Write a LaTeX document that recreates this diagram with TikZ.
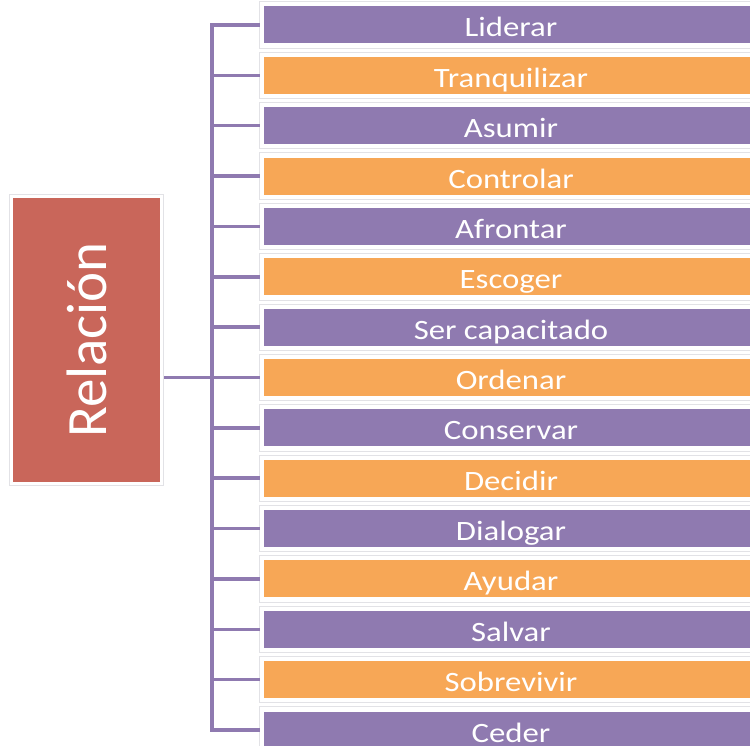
\documentclass[tikz,border=0pt]{standalone}
\usepackage{fontspec}
\setmainfont{Carlito}
\newfontfamily\etiqfont[FakeStretch=1.17]{Carlito}
\usetikzlibrary{calc,positioning}
\definecolor{lila}{RGB}{143,122,176}
\definecolor{naranja}{RGB}{247,167,86}
\definecolor{rojo}{RGB}{201,102,90}
\definecolor{marco}{RGB}{226,226,230}
\tikzset{
     verb box/.style = {minimum width=494pt, minimum height=37pt, inner sep=0pt,
                        text height=24pt, text depth=0pt, text=white,
                        font=\etiqfont\fontsize{28}{30}\selectfont},
     lila box/.style = {verb box, fill=lila},
     naranja box/.style = {verb box, fill=naranja},
     rel box/.style = {fill=rojo, text=white, minimum width=147pt, minimum height=284pt,
                       inner sep=0pt, font=\fontsize{57}{57}\selectfont},
     branch/.style = {lila, line width=3.5pt},
     marco line/.style = {marco, line width=0.9pt},
    }

\begin{document}
\begin{tikzpicture}[x=1pt,y=1pt,node distance=50.36pt,on grid]
        \useasboundingbox (0,0) rectangle (750,746);
        \node [lila box]    (lid)  at (511,721)  {Liderar};
        \node [naranja box] (tra)  [below=of lid] {Tranquilizar};
        \node [lila box]    (asu)  [below=of tra] {Asumir};
        \node [naranja box] (con)  [below=of asu] {Controlar};
        \node [lila box]    (afr)  [below=of con] {Afrontar};
        \node [naranja box] (esc)  [below=of afr] {Escoger};
        \node [lila box]    (ser)  [below=of esc] {Ser capacitado};
        \node [naranja box] (ord)  [below=of ser] {Ordenar};
        \node [lila box]    (cons) [below=of ord] {Conservar};
        \node [naranja box] (dec)  [below=of cons] {Decidir};
        \node [lila box]    (dia)  [below=of dec] {Dialogar};
        \node [naranja box] (ayu)  [below=of dia] {Ayudar};
        \node [lila box]    (sal)  [below=of ayu] {Salvar};
        \node [naranja box] (sob)  [below=of sal] {Sobrevivir};
        \node [lila box]    (ced)  [below=of sob] {Ceder};

        \node [rel box] (rel) at (86.5,406) {\rotatebox{90}{Relación}};

        % light frames round the boxes
        \foreach \b in {lid,tra,asu,con,afr,esc,ser,ord,cons,dec,dia,ayu,sal,sob,ced}
            \draw [marco line] ($(\b.south west)+(-4,-4.5)$) rectangle ($(\b.north east)+(4,4.5)$);
        \draw [marco line] ($(rel.south west)+(-3,-3)$) rectangle ($(rel.north east)+(3,3)$);

        % tree lines
        \coordinate (spine) at (212,0);
        \draw [branch] ([xshift=-4pt]lid.west) -- (lid.west -| spine)
            -- (ced.west -| spine) -- ([xshift=-4pt]ced.west);
        \foreach \b in {tra,asu,con,afr,esc,ser,ord,cons,dec,dia,ayu,sal,sob}
            \draw [branch] (\b.west -| spine) -- ([xshift=-4pt]\b.west);
        \draw [branch] ([xshift=4pt]rel.east |- ord.west) -- (ord.west -| spine);
    \end{tikzpicture}
\end{document}
